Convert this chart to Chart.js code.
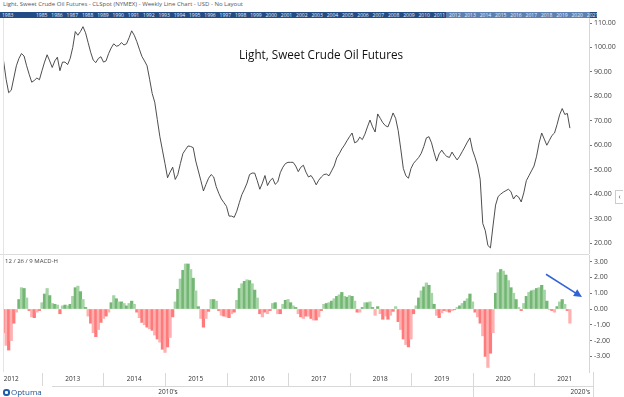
<!DOCTYPE html>
<html>
<head>
<meta charset="utf-8">
<script src="https://cdn.jsdelivr.net/npm/chart.js@4.4.1/dist/chart.umd.min.js"></script>
<style>
  body { margin:0; background:#fff; width:624px; height:397px; overflow:hidden; position:relative; font-family:'Open Sans', sans-serif; }
  .abs { position:absolute; white-space:nowrap; }
  #hdr { left:3px; top:0px; font-size:6px; line-height:8px; color:#555; }
  #band { left:0; top:12px; width:597px; height:6px; background:#234c84; overflow:hidden; }
  #bandSel { left:446px; top:0; width:144px; height:6px; background:#5d80b3; }
  .by { position:absolute; top:-1px; font-size:5px; line-height:8px; color:#e8eef8; }
  #price { left:0; top:18px; }
  #macd { left:0; top:254px; }
  #title { left:239px; top:46px; font-size:11.7px; color:#111; }
  #macdLbl { left:5px; top:257px; font-size:6px; color:#444; }
  #sep { left:0; top:254px; width:589px; height:1px; background:#dcdcdc; }
  #lborder { left:3px; top:18px; width:1px; height:354px; background:#e4e4e4; }
  #collapse { left:615px; top:190px; width:7px; height:12px; border:1px solid #ccc; border-right:none; font-size:7px; line-height:12px; color:#555; text-align:center; }
  #logo { left:3px; top:387px; font-size:8px; line-height:10px; color:#1d4f91; }
  #logo i { display:inline-block; width:7px; height:7px; border:2px solid #1d5fa8; border-radius:3px; box-sizing:border-box; margin-right:1px; vertical-align:-1px; }
</style>
</head>
<body>
<div class="abs" id="hdr">Light, Sweet Crude Oil Futures - CLSpot (NYMEX) - Weekly Line Chart - USD - No Layout</div>
<div class="abs" id="band"><div class="abs" id="bandSel"></div></div>
<canvas class="abs" id="price" width="624" height="236"></canvas>
<canvas class="abs" id="macd" width="624" height="143"></canvas>
<div class="abs" id="sep"></div>
<div class="abs" id="lborder"></div>
<div class="abs" id="title">Light, Sweet Crude Oil Futures</div>
<div class="abs" id="macdLbl">12 / 26 / 9 MACD-H</div>
<div class="abs" id="collapse">&lsaquo;</div>
<div class="abs" id="logo"><i></i>Optuma</div>
<script>
// semi-monthly samples, first one mid May 2012
const startYear = 2012.375;
const step = 1 / 24;

const price2012 = [94.5, 87, 81.5, 82.5, 87.5, 92.5, 95.5, 97.5, 96.5, 92.5, 89, 85.8, 86.5, 87.5, 86.8];
const price2013 = [90.5, 94, 97, 94.5, 91.8, 94.5, 96, 90.5, 94, 94, 93, 95.5, 100, 106.5, 105, 106.5, 108.5, 106, 102, 98, 94.8, 93.8, 95.5, 96.2];
const price2014 = [94, 94.5, 97.5, 99.8, 101.5, 100.5, 100.8, 102, 101, 101.5, 104, 106.8, 105, 102.4, 99.3, 96.3, 94.5, 92.5, 87, 81.2, 77.6, 70.5, 63.5, 58];
const price2015 = [52.5, 46.7, 49, 51, 46, 48, 52.5, 56.6, 58.2, 59.7, 59.5, 59, 53.5, 49.5, 45.5, 41.3, 44, 46.5, 48, 47, 43, 40.3, 38, 36.5];
const price2016 = [35, 31, 31, 30.5, 33, 36.5, 39.8, 42, 44.5, 48, 48.6, 48.6, 45.5, 42, 44.5, 47.6, 43.5, 45.5, 46.5, 44, 45, 48.8, 51, 52.5];
const price2017 = [53, 53, 53, 51.5, 49.2, 51, 51.8, 49, 47, 47.6, 46, 43.8, 45.7, 47, 48, 48.2, 47.5, 49.5, 51.5, 54.8, 56.5, 58.5, 60, 61.8];
const price2018 = [63.5, 65, 61, 61.5, 63.3, 62.3, 64.5, 67.5, 70.3, 67.5, 65.4, 72.8, 71, 69.2, 68, 67.5, 70.2, 73.2, 71, 66, 58.5, 50.5, 47.5, 46.5];
const price2019 = [50.5, 52.6, 53.8, 55, 56.7, 59.5, 63, 63.5, 61, 57, 53.5, 56.5, 58, 56.4, 55.4, 55, 57.2, 55.5, 54, 55.5, 57.4, 59.3, 61.3, 63];
const price2020 = [58, 55, 51.5, 46, 28, 25, 19, 18, 27, 35.5, 39, 40, 40.8, 41.4, 42, 41, 38, 39.5, 38.8, 36.8, 40.5, 45.5, 47.5, 49.5];
const price2021 = [51.5, 55.5, 61, 65, 62.5, 60, 62, 64, 65, 68.5, 72.5, 75, 72.6, 73, 67];

const macd2012 = [-1.5, -2.3, -2.6, -2.0, -0.9, -0.2, 0.6, 1.35, 1.3, 0.7, -0.1, -0.5, -0.55, -0.2, -0.1];
const macd2013 = [0.4, 0.95, 1.3, 0.85, 0.35, 0.3, 0.25, -0.3, 0.2, 0.25, 0.2, 0.3, 0.8, 1.35, 1.45, 1.1, 0.6, 0.1, -0.45, -0.9, -1.5, -1.75, -1.3, -0.85];
const macd2014 = [-0.6, -0.45, -0.2, 0.4, 0.85, 0.65, 0.45, 0.45, 0.35, 0.2, 0.35, 0.5, 0.3, -0.2, -0.55, -0.85, -1.0, -1.15, -1.25, -1.35, -1.65, -1.9, -2.1, -2.55];
const macd2015 = [-2.75, -2.4, -1.8, -0.5, 0.45, 1.25, 1.9, 2.45, 2.85, 2.85, 2.5, 1.95, 1.15, 0.15, -0.6, -1.15, -0.6, -0.15, 0.6, 0.6, 0.5, -0.1, -0.4, -0.45];
const macd2016 = [-0.5, -0.55, -0.3, -0.2, 0.55, 1.3, 1.6, 1.75, 1.85, 1.8, 1.6, 1.2, 0.7, -0.3, -0.5, -0.2, -0.3, -0.1, 0.35, 0.4, -0.3, -0.3, 0.3, 0.55];
const macd2017 = [0.6, 0.4, 0.2, 0.1, -0.3, -0.5, -0.6, -0.45, -0.45, -0.6, -0.7, -0.7, -0.5, -0.1, 0.3, 0.35, 0.4, 0.5, 0.65, 0.8, 0.9, 1.05, 0.8, 0.75];
const macd2018 = [0.85, 0.8, 0.5, -0.2, -0.2, 0.1, 0.4, 0.4, 0.45, 0.1, -0.4, 0.15, -0.3, -0.65, -0.45, -0.65, -0.4, -0.15, 0.15, -0.8, -1.3, -1.9, -2.25, -2.4];
const macd2019 = [-1.9, -0.3, 0.2, 0.7, 1.15, 1.4, 1.65, 1.5, 1.0, 0.3, -0.4, -0.55, -0.25, -0.1, -0.15, -0.2, -0.1, -0.05, 0.1, 0.2, 0.35, 0.5, 0.65, 0.95];
const macd2020 = [0.45, -0.2, -0.5, -0.9, -1.7, -3.0, -3.7, -2.8, -1.5, 1.0, 2.3, 2.5, 2.4, 2.15, 1.8, 1.35, 1.0, 0.6, 0.1, -0.1, 0.35, 0.8, 1.05, 1.15];
const macd2021 = [1.2, 1.3, 1.35, 1.5, 1.2, 0.5, -0.05, -0.1, -0.2, 0.15, 0.45, 0.6, 0.3, -0.1, -0.9];

const priceTicks = [20, 30, 40, 50, 60, 70, 80, 90, 100, 110];
const macdTicks = [-3, -2, -1, 0, 1, 2, 3];
const yearLabels = [2012, 2013, 2014, 2015, 2016, 2017, 2018, 2019, 2020, 2021];
const bandYears = [1985,1986,1987,1988,1989,1990,1991,1992,1993,1994,1995,1996,1997,1998,1999,2000,2001,2002,2003,2004,2005,2006,2007,2008,2009,2010,2011,2012,2013,2014,2015,2016,2017,2018,2019,2020,2021];

const priceValues = [].concat(price2012, price2013, price2014, price2015, price2016, price2017, price2018, price2019, price2020, price2021);
const macdValues = [].concat(macd2012, macd2013, macd2014, macd2015, macd2016, macd2017, macd2018, macd2019, macd2020, macd2021);
const dates = priceValues.map((v, i) => startYear + i * step);

const xMin = 2012.366, xMax = 2021.894;
const FONT = 'Open Sans';

// overview band labels
const band = document.getElementById('band');
function bandLabel(txt, left) {
  const s = document.createElement('span');
  s.className = 'by'; s.textContent = txt; s.style.left = left + 'px';
  band.appendChild(s);
}
bandLabel('1983', 2);
bandYears.forEach(y => bandLabel(String(y), 36 + (y - 1985) * 15.3));

function fixAxis(s) {
  s.width = 35;
  s.paddingTop = 0;
  s.paddingBottom = 0;
}

new Chart(document.getElementById('price'), {
  type: 'line',
  data: {
    datasets: [{
      data: dates.map((x, i) => ({ x: x, y: priceValues[i] })),
      borderColor: '#3a3a3a',
      borderWidth: 0.9,
      pointRadius: 0,
      tension: 0
    }]
  },
  options: {
    responsive: false,
    animation: false,
    layout: { padding: { left: 3, right: 0, top: 0, bottom: 0 } },
    plugins: { legend: { display: false }, tooltip: { enabled: false } },
    scales: {
      x: { type: 'linear', min: xMin, max: xMax, offset: false, display: false },
      y: {
        position: 'right', min: 15.5, max: 112.05,
        afterBuildTicks: s => { s.ticks = priceTicks.map(v => ({ value: v })); },
        afterFit: fixAxis,
        grid: { drawOnChartArea: false, tickLength: 3, color: '#777' },
        border: { color: '#d6d6d6' },
        ticks: { callback: v => v.toFixed(2), font: { family: FONT, size: 7 }, color: '#444', padding: 2 }
      }
    }
  }
});

const bottomRows = {
  id: 'bottomRows',
  afterDraw(chart) {
    const ctx = chart.ctx, xs = chart.scales.x, ys = chart.scales.y;
    const top = chart.chartArea.bottom;
    ctx.save();
    ctx.strokeStyle = '#d8d8d8';
    ctx.lineWidth = 1;
    // year separators
    for (let y = 2013; y <= 2022; y++) {
      const px = Math.round(xs.getPixelForValue(y)) + 0.5;
      if (px > 594) continue;
      ctx.beginPath(); ctx.moveTo(px, top + 1); ctx.lineTo(px, top + 14); ctx.stroke();
    }
    ctx.beginPath(); ctx.moveTo(593.5, top); ctx.lineTo(593.5, 143); ctx.stroke();
    ctx.beginPath(); ctx.moveTo(52, top + 14.5); ctx.lineTo(594, top + 14.5); ctx.stroke();
    const d = Math.round(xs.getPixelForValue(2020)) + 0.5;
    ctx.beginPath(); ctx.moveTo(d, top + 14); ctx.lineTo(d, 143); ctx.stroke();
    // labels
    ctx.fillStyle = '#333';
    ctx.font = '6.5px "' + FONT + '"';
    ctx.textAlign = 'center';
    ctx.textBaseline = 'middle';
    yearLabels.forEach(y => {
      ctx.fillText(String(y), xs.getPixelForValue(y + 0.5), top + 7);
    });
    ctx.fillText("2010's", xs.getPixelForValue(2015) + 3, top + 20);
    ctx.textAlign = 'right';
    ctx.fillText("2020's", 590, top + 20);
    // annotation arrow
    const x1 = xs.getPixelForValue(2021.195), y1 = ys.getPixelForValue(2.2);
    const x2 = xs.getPixelForValue(2021.78), y2 = ys.getPixelForValue(0.76);
    const a = Math.atan2(y2 - y1, x2 - x1);
    ctx.strokeStyle = '#3163d6';
    ctx.fillStyle = '#3163d6';
    ctx.lineWidth = 1.5;
    ctx.beginPath(); ctx.moveTo(x1, y1); ctx.lineTo(x2 - 6 * Math.cos(a), y2 - 6 * Math.sin(a)); ctx.stroke();
    ctx.beginPath();
    ctx.moveTo(x2, y2);
    ctx.lineTo(x2 - 9 * Math.cos(a - 0.45), y2 - 9 * Math.sin(a - 0.45));
    ctx.lineTo(x2 - 9 * Math.cos(a + 0.45), y2 - 9 * Math.sin(a + 0.45));
    ctx.closePath(); ctx.fill();
    ctx.restore();
  }
};

new Chart(document.getElementById('macd'), {
  type: 'bar',
  data: {
    datasets: [{
      data: dates.map((x, i) => ({ x: x, y: macdValues[i] })),
      backgroundColor: c => {
        const v = c.raw ? c.raw.y : 0;
        const light = c.dataIndex % 2 === 1;
        if (v >= 0) return light ? '#a6d4a6' : '#74b774';
        return light ? '#ffb0b0' : '#ff7b7b';
      },
      barPercentage: 1,
      categoryPercentage: 1
    }]
  },
  options: {
    responsive: false,
    animation: false,
    layout: { padding: { left: 3, right: 0, top: 1, bottom: 25 } },
    plugins: { legend: { display: false }, tooltip: { enabled: false } },
    scales: {
      x: { type: 'linear', min: xMin, max: xMax, offset: false, grid: { offset: false }, display: false },
      y: {
        position: 'right', min: -3.987, max: 3.418,
        afterBuildTicks: s => { s.ticks = macdTicks.map(v => ({ value: v })); },
        afterFit: fixAxis,
        grid: { drawOnChartArea: false, tickLength: 3, color: '#777' },
        border: { color: '#d6d6d6' },
        ticks: { callback: v => v.toFixed(2), font: { family: FONT, size: 7 }, color: '#444', padding: 2 }
      }
    }
  },
  plugins: [bottomRows]
});
</script>
</body>
</html>
